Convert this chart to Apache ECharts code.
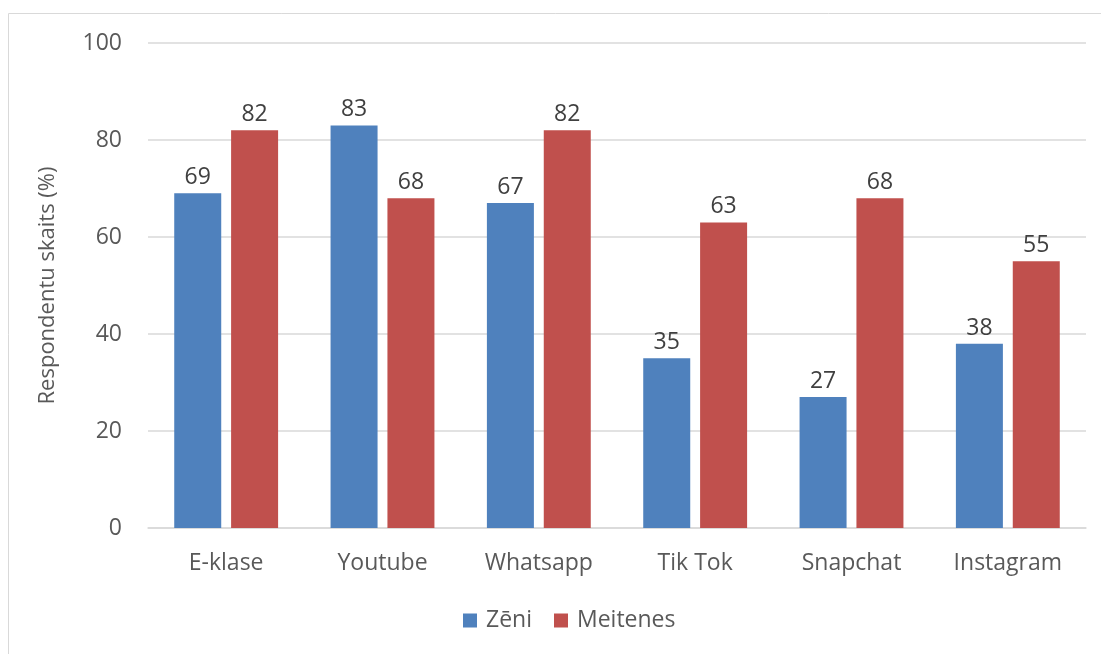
<!DOCTYPE html>
<html><head><meta charset="utf-8">
<script src="https://cdn.jsdelivr.net/npm/echarts@6/dist/echarts.min.js"></script>
<style>html,body{margin:0;padding:0;background:#fff}#c{width:1101px;height:654px}</style>
</head><body><div id="c"></div>
<script>
const categories = ['E-klase','Youtube','Whatsapp','Tik Tok','Snapchat','Instagram'];
const zeni = [69,83,67,35,27,38];
const meitenes = [82,68,82,63,68,55];
const seriesNames = ['Zēni','Meitenes'];
const yTicks = {min:0,max:100,interval:20};
const font = "Open Sans, Liberation Sans, sans-serif";
const chart = echarts.init(document.getElementById('c'));
const lbl = {show:true,position:'top',color:'#404040',fontSize:23,fontFamily:font,distance:4};
chart.setOption({
  animation:false,
  graphic:[{type:'rect',shape:{x:8.5,y:13.5,width:1100,height:700},style:{fill:'none',stroke:'#d9d9d9',lineWidth:1}}],
  grid:{left:148,right:15,top:43,bottom:126},
  legend:{bottom:17,left:458,itemWidth:14,itemHeight:14,itemGap:22,icon:'rect',
    textStyle:{color:'#595959',fontSize:23,fontFamily:font,padding:[0,0,0,4]},data:seriesNames},
  xAxis:{type:'category',data:categories,axisTick:{show:false},
    axisLine:{lineStyle:{color:'#d9d9d9',width:1.5}},
    axisLabel:{color:'#595959',fontSize:23,fontFamily:font,margin:24}},
  yAxis:{type:'value',min:yTicks.min,max:yTicks.max,interval:yTicks.interval,
    name:'Respondentu skaits (%)',nameLocation:'middle',nameGap:89,nameRotate:90,
    nameTextStyle:{color:'#595959',fontSize:22,fontFamily:font},
    axisLine:{show:false},axisTick:{show:false},
    splitLine:{lineStyle:{color:'#d9d9d9',width:1.5}},
    axisLabel:{color:'#595959',fontSize:23,fontFamily:font,margin:26}},
  series:[
    {name:seriesNames[0],type:'bar',data:zeni,barWidth:47,barGap:'21%',itemStyle:{color:'#4f81bd'},label:lbl},
    {name:seriesNames[1],type:'bar',data:meitenes,barWidth:47,itemStyle:{color:'#c0504d'},label:lbl}
  ]
});
</script></body></html>
